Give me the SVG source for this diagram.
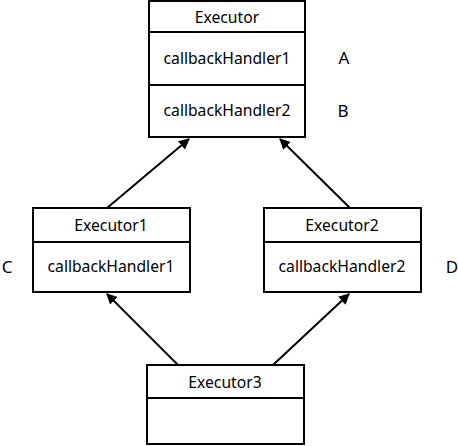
<svg xmlns="http://www.w3.org/2000/svg" width="458" height="446" viewBox="0 0 458 446">
<defs>
<style>
.box{fill:#fff;stroke:#000;stroke-width:2}
.div{stroke:#000;stroke-width:2}
.t{font-family:"Noto Sans","Open Sans",sans-serif;font-size:15.7px;fill:#000;text-anchor:middle}
.l{font-family:"Noto Sans","Open Sans",sans-serif;font-size:17px;fill:#000;text-anchor:middle}
.c{stroke:#000;stroke-width:2;fill:none;marker-end:url(#ah)}
</style>
<marker id="ah" viewBox="0 0 10 10" refX="9" refY="5" markerWidth="5.5" markerHeight="5.5" orient="auto" markerUnits="strokeWidth">
<path d="M0,0 L10,5 L0,10 z" fill="#000"/>
</marker>
</defs>
<rect width="458" height="446" fill="#fff"/>
<g id="connectors">
<line class="c" x1="107" y1="208" x2="189" y2="139"/>
<line class="c" x1="350" y1="208" x2="280" y2="139"/>
<line class="c" x1="178" y1="365" x2="107" y2="294"/>
<line class="c" x1="273" y1="365" x2="349" y2="294"/>
</g>
<g id="executor">
<rect class="box" x="149" y="1" width="156" height="136"/>
<line class="div" x1="149" y1="32" x2="305" y2="32"/>
<line class="div" x1="149" y1="85" x2="305" y2="85"/>
<text class="t" x="227" y="23">Executor</text>
<text class="t" x="227" y="64">callbackHandler1</text>
<text class="t" x="227" y="116">callbackHandler2</text>
</g>
<g id="executor1">
<rect class="box" x="33" y="208" width="157" height="84"/>
<line class="div" x1="33" y1="242" x2="190" y2="242"/>
<text class="t" x="111" y="231">Executor1</text>
<text class="t" x="111" y="272">callbackHandler1</text>
</g>
<g id="executor2">
<rect class="box" x="264" y="208" width="157" height="84"/>
<line class="div" x1="264" y1="242" x2="421" y2="242"/>
<text class="t" x="342" y="231">Executor2</text>
<text class="t" x="342" y="272">callbackHandler2</text>
</g>
<g id="executor3">
<rect class="box" x="147" y="365" width="157" height="79"/>
<line class="div" x1="147" y1="398" x2="304" y2="398"/>
<text class="t" x="225" y="388">Executor3</text>
</g>
<g id="labels">
<text class="l" x="344" y="64">A</text>
<text class="l" x="343" y="117">B</text>
<text class="l" x="7" y="273">C</text>
<text class="l" x="452" y="273">D</text>
</g>
</svg>
